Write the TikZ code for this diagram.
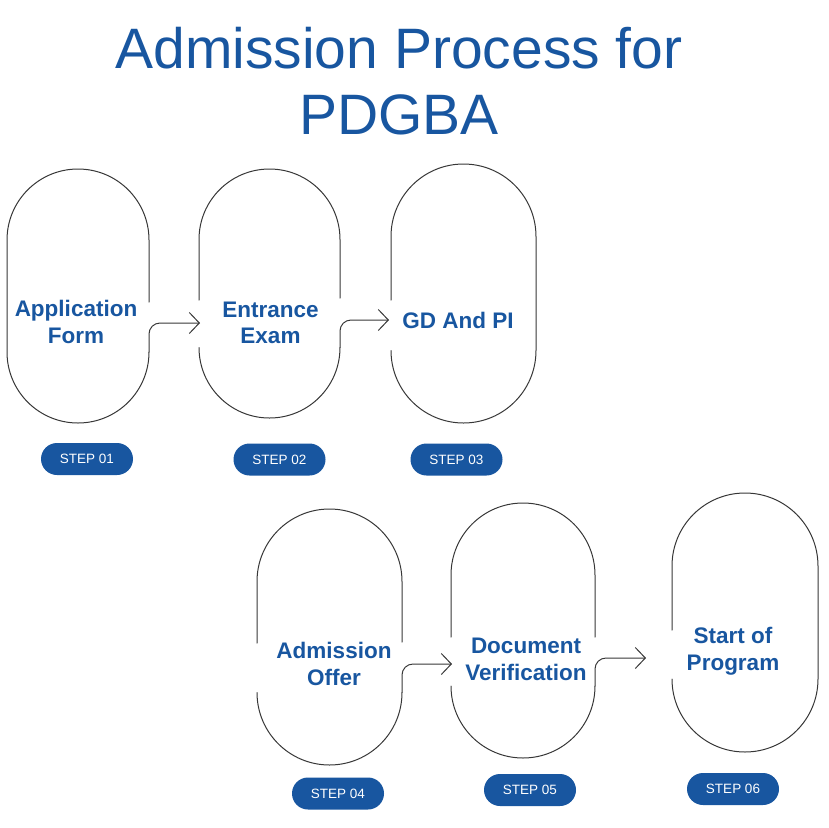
\documentclass[tikz,border=0pt]{standalone}
\usepackage{fontspec}
\setmainfont{Liberation Sans}
\usepackage{tikz}
\usepackage{xcolor}
\usetikzlibrary{arrows.meta}
\definecolor{pdblue}{RGB}{24,86,160}
\definecolor{linegray}{RGB}{55,55,55}

\begin{document}
\begin{tikzpicture}[x=1pt, y=-1pt, line cap=round, line join=round,
		pill/.style={draw=linegray, line width=1pt},
		flow/.style={draw=linegray, line width=1pt, rounded corners=11pt, -{Straight Barb[length=10pt,width=21pt]}},
		lbl/.style={text=pdblue, inner sep=0pt, align=center, font=\fontsize{22.5}{26.5}\selectfont\bfseries},
		stepbadge/.style={fill=pdblue, text=white, rounded corners=16pt, minimum width=92pt, minimum height=32pt, inner sep=0pt, font=\fontsize{13.5}{15}\selectfont}]
		\useasboundingbox (0,0) rectangle (828,828);
		\node[text=pdblue, inner sep=0pt, align=center, font=\fontsize{57}{66}\selectfont] (title) at (399,81) {Admission Process for\\PDGBA};
		% first row
		\draw[pill] (149,302) -- (149,240) arc[start angle=0, end angle=-180, radius=71] -- (7,352) arc[start angle=180, end angle=0, radius=71];
		\draw[pill] (199,300) -- (199,239.5) arc[start angle=180, end angle=360, radius=70.5] -- (340,298);
		\draw[pill] (199,347.5) arc[start angle=180, end angle=0, radius=70.5];
		\draw[pill] (391,300) -- (391,236.5) arc[start angle=180, end angle=360, radius=72.5] -- (536,350.5) arc[start angle=0, end angle=180, radius=72.5];
		\coordinate (o1) at (149,352);
		\coordinate (t1) at (200,323);
		\coordinate (o2) at (340,347.5);
		\coordinate (t2) at (389,320);
		\draw[flow] (o1) |- (t1);
		\draw[flow] (o2) |- (t2);
		\node[lbl] (app) at (76,322) {Application\\Form};
		\node[lbl] (exam) at (270.5,323) {Entrance\\Exam};
		\node[lbl] (gdpi) at (458,320.5) {GD And PI};
		\node[stepbadge] (st1) at (87,459) {STEP 01};
		\node[stepbadge] (st2) at (279.5,459.5) {STEP 02};
		\node[stepbadge] (st3) at (456.5,459.5) {STEP 03};
		% second row
		\draw[pill] (257,643) -- (257,581.5) arc[start angle=180, end angle=360, radius=72.5] -- (402,642);
		\draw[pill] (257,692.5) arc[start angle=180, end angle=0, radius=72.5];
		\draw[pill] (451,637) -- (451,575) arc[start angle=180, end angle=360, radius=72] -- (595,637);
		\draw[pill] (451,686) arc[start angle=180, end angle=0, radius=72];
		\draw[pill] (672,630) -- (672,566) arc[start angle=180, end angle=360, radius=73] -- (818,679) arc[start angle=0, end angle=180, radius=73];
		\coordinate (o4) at (402,692.5);
		\coordinate (t4) at (452,664);
		\coordinate (o5) at (595,686);
		\coordinate (t5) at (646,658);
		\draw[flow] (o4) |- (t4);
		\draw[flow] (o5) |- (t5);
		\node[lbl] (offer) at (334,664) {Admission\\Offer};
		\node[lbl] (verif) at (526,659.5) {Document\\Verification};
		\node[lbl] (prog) at (733,651) {Start of\\Program};
		\node[stepbadge] (st4) at (338,793.5) {STEP 04};
		\node[stepbadge] (st5) at (530,790) {STEP 05};
		\node[stepbadge] (st6) at (733,789) {STEP 06};
	\end{tikzpicture}
\end{document}
